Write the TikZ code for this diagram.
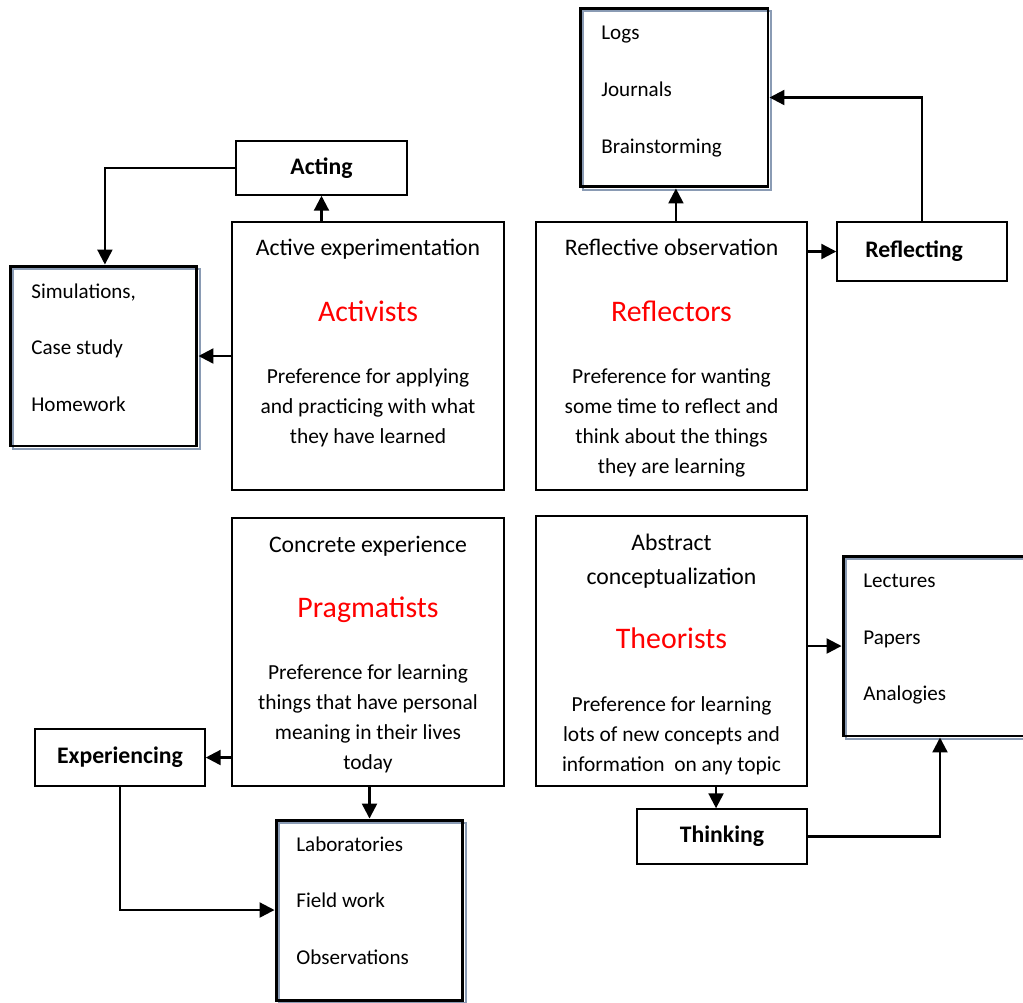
\documentclass[tikz,border=0pt]{standalone}
\usepackage{fontspec}
\setmainfont{Carlito}
\usetikzlibrary{arrows.meta,shadows}
\definecolor{shade}{HTML}{8A9BB4}
\definecolor{headred}{HTML}{FF0000}
\begin{document}
\begin{tikzpicture}[x=0.02cm,y=-0.02cm,
  box/.style={draw, line width=0.85pt, fill=white, inner sep=0pt},
  tag/.style={box, font=\fontsize{13.5}{16}\selectfont\bfseries},
  listbox/.style={draw, line width=1.7pt, inner sep=0pt,
    general shadow={shadow xshift=1.7pt, shadow yshift=-1.7pt, draw=shade, line width=1.1pt}},
  title/.style={anchor=base, inner sep=0pt, font=\fontsize{13.5}{16}\selectfont},
  body/.style={anchor=base, inner sep=0pt, font=\fontsize{12.2}{15}\selectfont},
  head/.style={anchor=base, inner sep=0pt, text=headred, font=\fontsize{17}{20}\selectfont},
  item/.style={anchor=base west, inner sep=0pt, font=\fontsize{12}{14}\selectfont},
  link/.style={line width=1.3pt, -{Triangle[length=8.5pt,width=8.5pt]}},
]
\useasboundingbox (0,0) rectangle (1023,1002);

% four learning-style boxes
\node[box, minimum width=5.44cm, minimum height=5.36cm] (active) at (368,356) {};
\node[box, minimum width=5.42cm, minimum height=5.36cm] (reflective) at (671.5,356) {};
\node[box, minimum width=5.44cm, minimum height=5.36cm] (concrete) at (368,652) {};
\node[box, minimum width=5.42cm, minimum height=5.40cm] (abstract) at (671.5,651) {};

% activity labels
\node[tag, minimum width=3.42cm, minimum height=1.08cm] (acting) at (321.5,168) {Acting};
\node[tag, minimum width=3.40cm, minimum height=1.18cm] (reflecting) at (922,251.5) {Reflecting\hspace*{9pt}\null};
\node[tag, minimum width=3.40cm, minimum height=1.14cm] (experiencing) at (120,757.5) {Experiencing};
\node[tag, minimum width=3.40cm, minimum height=1.10cm] (thinking) at (722,836.5) {Thinking};

% method lists
\node[listbox, minimum width=3.76cm, minimum height=3.58cm] (logs) at (674,97.5) {};
\node[listbox, minimum width=3.74cm, minimum height=3.60cm] (sims) at (103.5,356) {};
\node[listbox, minimum width=3.74cm, minimum height=3.60cm] (labs) at (369.5,910) {};
\node[listbox, minimum width=3.76cm, minimum height=3.60cm] (lectures) at (937,646) {};

% texts of the learning-style boxes
\node[title] (ae-1) at (368,255) {Active experimentation};
\node[head] (ae-2) at (368,321) {Activists};
\node[body] (ae-3) at (368,383) {Preference for applying};
\node[body] (ae-4) at (368,413) {and practicing with what};
\node[body] (ae-5) at (368,443) {they have learned};

\node[title] (ro-1) at (671.5,255) {Reflective observation};
\node[head] (ro-2) at (671.5,321) {Reflectors};
\node[body] (ro-3) at (671.5,383) {Preference for wanting};
\node[body] (ro-4) at (671.5,413) {some time to reflect and};
\node[body] (ro-5) at (671.5,443) {think about the things};
\node[body] (ro-6) at (671.5,473) {they are learning};

\node[title] (ce-1) at (368,552) {Concrete experience};
\node[head] (ce-2) at (368,617) {Pragmatists};
\node[body] (ce-3) at (368,679) {Preference for learning};
\node[body] (ce-4) at (368,709) {things that have personal};
\node[body] (ce-5) at (368,739) {meaning in their lives};
\node[body] (ce-6) at (368,769) {today};

\node[title] (ac-1) at (671.5,550) {Abstract};
\node[title] (ac-2) at (671.5,584) {conceptualization};
\node[head] (ac-3) at (671.5,648) {Theorists};
\node[body] (ac-4) at (671.5,711) {Preference for learning};
\node[body] (ac-5) at (671.5,741) {lots of new concepts and};
\node[body] (ac-6) at (671.5,771) {information\ \ on any topic};

% list entries
\node[item] (logs-1) at (601,39) {Logs};
\node[item] (logs-2) at (601,96) {Journals};
\node[item] (logs-3) at (601,153) {Brainstorming};

\node[item] (sims-1) at (31,298) {Simulations,};
\node[item] (sims-2) at (31,354) {Case study};
\node[item] (sims-3) at (31,411) {Homework};

\node[item] (labs-1) at (296,851) {Laboratories};
\node[item] (labs-2) at (296,907) {Field work};
\node[item] (labs-3) at (296,964) {Observations};

\node[item] (lec-1) at (863,587) {Lectures};
\node[item] (lec-2) at (863,644) {Papers};
\node[item] (lec-3) at (863,700) {Analogies};

% connectors
\draw[link] (acting.south |- active.north) -- (acting.south);
\draw[link] (acting.west) -| ([xshift=0.8pt]sims.north);
\draw[link] (active.west) -- (sims.east);
\draw[link] ([xshift=1.1pt]logs.south |- reflective.north) -- ([xshift=1.1pt]logs.south);
\draw[link] (reflective.east |- reflecting.west) -- (reflecting.west);
\draw[link] (reflecting.north) |- (logs.east);
\draw[link] (concrete.west |- experiencing.east) -- (experiencing.east);
\draw[link] (labs.north |- concrete.south) -- (labs.north);
\draw[link] (experiencing.south) |- (labs.west);
\draw[link] ([xshift=-3.4pt]thinking.north |- abstract.south) -- ([xshift=-3.4pt]thinking.north);
\draw[link] (abstract.east |- lectures.west) -- (lectures.west);
\draw[link] (thinking.east) -| ([xshift=1.7pt]lectures.south);
\end{tikzpicture}
\end{document}
